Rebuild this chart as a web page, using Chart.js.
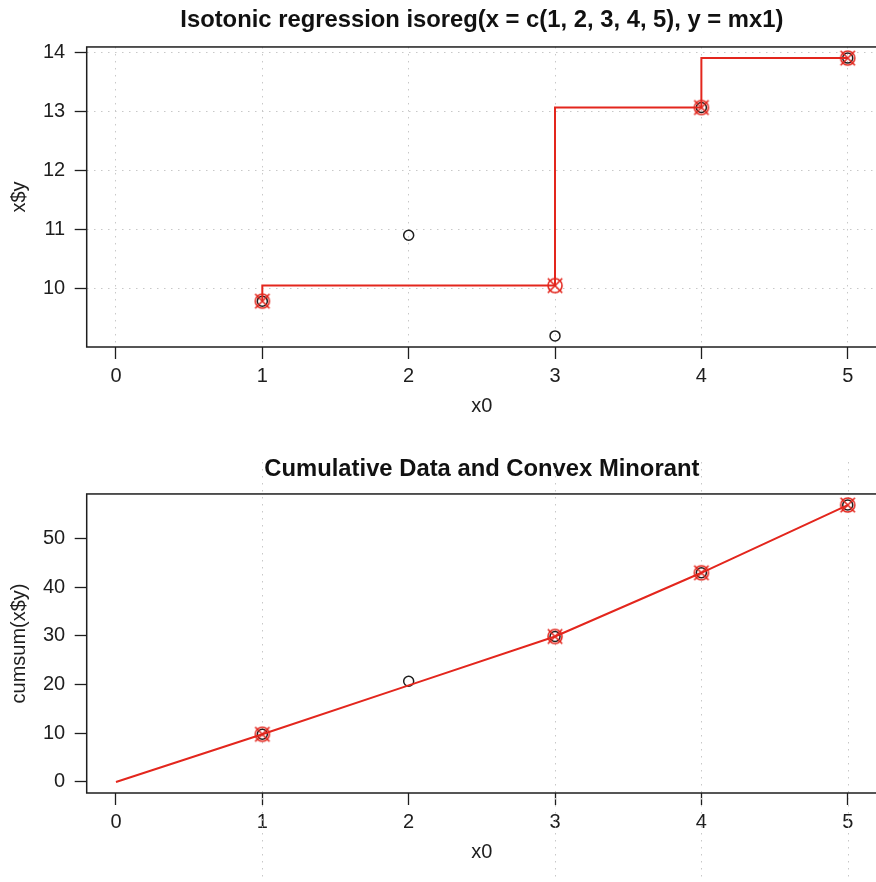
<!DOCTYPE html>
<html>
<head>
<meta charset="utf-8">
<script src="https://cdn.jsdelivr.net/npm/chart.js@4/dist/chart.umd.min.js"></script>
<style>
  html, body { margin: 0; padding: 0; background: #fff; overflow: hidden; width: 876px; height: 882px; }
  .panel { position: absolute; left: 0; }
</style>
</head>
<body>
<canvas id="isoPanel" class="panel" style="top:0px" width="880" height="441"></canvas>
<canvas id="cumPanel" class="panel" style="top:441px" width="880" height="441"></canvas>
<script>
// Observed data and isotonic fit
const xObs = [1, 2, 3, 4, 5];
const yObs = [9.78, 10.90, 9.19, 13.07, 13.91];
const yFit = [9.78, 10.045, 10.045, 13.07, 13.91];
const knotX = [1, 3, 4, 5];
const knotFit = [9.78, 10.045, 13.07, 13.91];

// Cumulative data and convex minorant
const cumX = [0, 1, 2, 3, 4, 5];
const cumFit = [0, 9.78, 19.825, 29.87, 42.94, 56.85];
const cumObs = [9.78, 20.68, 29.87, 42.94, 56.85];
const knotCum = [9.78, 29.87, 42.94, 56.85];

// Tick positions
const xTicks = [0, 1, 2, 3, 4, 5];
const yTicksTop = [10, 11, 12, 13, 14];
const yTicksBottom = [0, 10, 20, 30, 40, 50];

const FONT = "'Liberation Sans', Arial, Helvetica, sans-serif";
const RED = '#e3261d';
const INK = '#1e1e1e';
const GRID = '#c8c8c8';

const pts = (xs, ys) => xs.map((x, i) => ({ x: x, y: ys[i] }));

// axis range padded by 4% on both sides
function padRange(vals) {
  const lo = Math.min(...vals), hi = Math.max(...vals);
  const d = (hi - lo) * 0.04;
  return [lo - d, hi + d];
}

// circle with a diagonal cross, used for the fitted knots
function circleX() {
  const c = document.createElement('canvas');
  c.width = 22; c.height = 22;
  const g = c.getContext('2d');
  g.strokeStyle = RED;
  g.lineWidth = 1.6;
  g.beginPath();
  g.arc(11, 11, 7, 0, Math.PI * 2);
  g.stroke();
  g.beginPath();
  g.moveTo(3.8, 3.8); g.lineTo(18.2, 18.2);
  g.moveTo(18.2, 3.8); g.lineTo(3.8, 18.2);
  g.stroke();
  return c;
}
const knotMarker = circleX();

// full frame around the plotting region
const framePlugin = {
  id: 'frame',
  afterDatasetsDraw(chart) {
    const a = chart.chartArea, ctx = chart.ctx;
    ctx.save();
    ctx.strokeStyle = INK;
    ctx.lineWidth = 1.5;
    ctx.strokeRect(a.left, a.top, a.right - a.left, a.bottom - a.top);
    ctx.restore();
  }
};

// dotted verticals at the knots, across the whole panel
const knotLinePlugin = {
  id: 'knotLines',
  beforeDatasetsDraw(chart, args, opts) {
    if (!opts.values) return;
    const ctx = chart.ctx, xs = chart.scales.x;
    ctx.save();
    ctx.strokeStyle = GRID;
    ctx.lineWidth = 1;
    ctx.setLineDash([1.5, 5.5]);
    opts.values.forEach(v => {
      const px = Math.round(xs.getPixelForValue(v)) + 0.5;
      ctx.beginPath();
      ctx.moveTo(px, opts.from);
      ctx.lineTo(px, chart.height);
      ctx.stroke();
    });
    ctx.restore();
  }
};

function makePanel(id, cfg) {
  const tickFont = { family: FONT, size: 20 };
  return new Chart(document.getElementById(id), {
    type: 'scatter',
    data: { datasets: cfg.datasets },
    plugins: [framePlugin, knotLinePlugin],
    options: {
      responsive: false,
      animation: false,
      events: [],
      layout: { autoPadding: false, padding: { left: 0, right: 3, top: 0, bottom: 0 } },
      plugins: {
        legend: { display: false },
        tooltip: { enabled: false },
        title: {
          display: true,
          text: cfg.title,
          fullSize: false,
          color: '#111',
          font: { family: FONT, size: 23.8, weight: 'bold', lineHeight: 1.2 },
          padding: cfg.titlePad
        },
        knotLines: cfg.knotLines || {}
      },
      scales: {
        x: {
          type: 'linear',
          min: -0.2,
          max: 5.2,
          afterBuildTicks: s => { s.ticks = xTicks.map(v => ({ value: v })); },
          afterFit: s => { s.height = cfg.xHeight; s.paddingLeft = 0; s.paddingRight = 0; },
          grid: {
            drawOnChartArea: cfg.grid,
            color: GRID,
            lineWidth: 1,
            tickLength: 12,
            tickColor: INK,
            tickWidth: 1.3
          },
          border: { display: false, dash: [1.5, 5.5] },
          ticks: {
            font: tickFont, color: INK, padding: 5,
            maxRotation: 0, autoSkip: false,
            callback: v => String(v)
          },
          title: {
            display: true, text: 'x0', color: INK,
            font: { family: FONT, size: 20, lineHeight: 1.2 },
            padding: { top: 0, bottom: cfg.xTitlePad }
          }
        },
        y: {
          type: 'linear',
          min: cfg.yRange[0],
          max: cfg.yRange[1],
          afterBuildTicks: s => { s.ticks = cfg.yTicks.map(v => ({ value: v })); },
          afterFit: s => { s.width = 86.7; s.paddingTop = 0; s.paddingBottom = 0; },
          grid: {
            drawOnChartArea: cfg.grid,
            color: GRID,
            lineWidth: 1,
            tickLength: 12,
            tickColor: INK,
            tickWidth: 1.3
          },
          border: { display: false, dash: [1.5, 5.5] },
          ticks: {
            font: tickFont, color: INK, padding: 9.5,
            autoSkip: false,
            callback: v => String(v)
          },
          title: {
            display: true, text: cfg.yTitle, color: INK,
            font: { family: FONT, size: 20, lineHeight: 1.2 },
            padding: { top: 7, bottom: 0 }
          }
        }
      }
    }
  });
}

const obsStyle = {
  showLine: false,
  pointStyle: 'circle',
  pointRadius: 5,
  pointBorderWidth: 1.5,
  borderColor: INK,
  backgroundColor: 'rgba(0,0,0,0)'
};
const knotStyle = {
  showLine: false,
  pointStyle: knotMarker,
  pointRadius: 11
};
const fitStyle = {
  showLine: true,
  borderColor: RED,
  borderWidth: 2,
  pointRadius: 0,
  tension: 0,
  fill: false
};

// isotonic step function over the raw data
makePanel('isoPanel', {
  title: 'Isotonic regression isoreg(x = c(1, 2, 3, 4, 5), y = mx1)',
  titlePad: { top: 5.8, bottom: 12.6 },
  xHeight: 94,
  xTitlePad: 23,
  yTitle: 'x$y',
  yRange: padRange(yObs.concat(yFit)),
  yTicks: yTicksTop,
  grid: true,
  datasets: [
    Object.assign({ label: 'knots', data: pts(knotX, knotFit), order: 0 }, knotStyle),
    Object.assign({ label: 'fit', data: pts(xObs, yFit), stepped: 'after', order: 1 }, fitStyle),
    Object.assign({ label: 'data', data: pts(xObs, yObs), order: 2 }, obsStyle)
  ]
});

// cumulative sums with the greatest convex minorant
makePanel('cumPanel', {
  title: 'Cumulative Data and Convex Minorant',
  titlePad: { top: 13.8, bottom: 10.6 },
  xHeight: 89,
  xTitlePad: 18,
  yTitle: 'cumsum(x$y)',
  yRange: padRange([0].concat(cumObs)),
  yTicks: yTicksBottom,
  grid: false,
  knotLines: { values: knotX, from: 21 },
  datasets: [
    Object.assign({ label: 'knots', data: pts(knotX, knotCum), order: 0 }, knotStyle),
    Object.assign({ label: 'minorant', data: pts(cumX, cumFit), order: 1 }, fitStyle),
    Object.assign({ label: 'cumsum', data: pts(xObs, cumObs), order: 2 }, obsStyle)
  ]
});
</script>
</body>
</html>
